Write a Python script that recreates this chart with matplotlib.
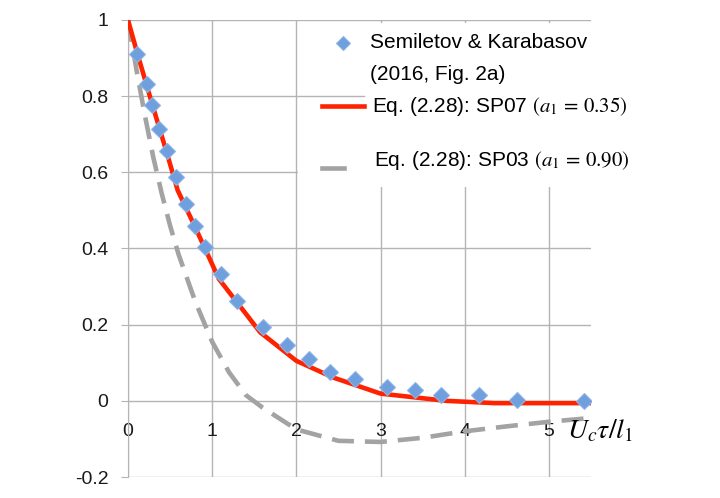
import numpy as np
import matplotlib.pyplot as plt
from matplotlib.lines import Line2D
from matplotlib.patches import Rectangle
from matplotlib.transforms import blended_transform_factory

plt.rcParams['font.family'] = ['Liberation Sans', 'DejaVu Sans']
plt.rcParams['mathtext.fontset'] = 'stix'
plt.rcParams['axes.unicode_minus'] = False

# Semiletov & Karabasov (2016, Fig. 2a)
sk_x = [0.11, 0.22, 0.29, 0.37, 0.46, 0.57, 0.69, 0.80, 0.91, 1.11, 1.29, 1.60,
        1.89, 2.15, 2.40, 2.70, 3.08, 3.41, 3.72, 4.17, 4.62, 5.42]
sk_y = [0.910, 0.833, 0.776, 0.713, 0.656, 0.588, 0.517, 0.460, 0.403, 0.332, 0.261, 0.193,
        0.146, 0.110, 0.077, 0.057, 0.037, 0.028, 0.015, 0.015, 0.002, 0.0]

# Eq. (2.28): SP07, a1 = 0.35
sp07_x = [0.0, 0.11, 0.29, 0.46, 0.59, 0.80, 1.08, 1.57, 2.00, 2.44, 3.00, 3.78, 4.35, 5.50]
sp07_y = [1.0, 0.913, 0.777, 0.652, 0.553, 0.455, 0.320, 0.180, 0.105, 0.061, 0.019, 0.0, -0.006, -0.006]

# Eq. (2.28): SP03, a1 = 0.90
sp03_x = [0.0, 0.1, 0.2, 0.3, 0.4, 0.5, 0.6, 0.8, 1.0, 1.2, 1.4, 1.6, 2.0, 2.5,
          3.0, 3.5, 4.0, 4.5, 5.0, 5.5]
sp03_y = [1.0, 0.87, 0.75, 0.64, 0.545, 0.46, 0.385, 0.26, 0.155, 0.075, 0.015, -0.018, -0.075, -0.105,
          -0.108, -0.097, -0.080, -0.067, -0.055, -0.045]

x_ticks = [0, 1, 2, 3, 4, 5]
y_ticks = [-0.2, 0, 0.2, 0.4, 0.6, 0.8, 1.0]
y_tick_labels = ['-0.2', '0', '0.2', '0.4', '0.6', '0.8', '1']

grid_col = '#b4b4b4'
red = '#ff2200'
grey = '#a3a3a3'
blue = '#6f9fdc'

fig = plt.figure(figsize=(7.2, 4.98), dpi=100)
ax = fig.add_axes([128 / 720, 21 / 498, 463 / 720, 457 / 498])

ax.plot(sp03_x, sp03_y, color=grey, lw=3.3, dashes=(4.8, 2.4), zorder=3)
ax.plot(sp07_x, sp07_y, color=red, lw=3.3, zorder=4)
ax.plot(sk_x, sk_y, ls='none', marker='D', ms=8, mfc=blue, mec='#8fb5e6', mew=0.8, zorder=5)

ax.set_xlim(0, 5.5)
ax.set_ylim(-0.2, 1.0)
ax.set_xticks(x_ticks)
ax.set_yticks(y_ticks)
ax.set_yticklabels(y_tick_labels)
ax.grid(color=grid_col, lw=1)
ax.set_axisbelow(True)

for s in ['top', 'right']:
    ax.spines[s].set_visible(False)
ax.spines['left'].set_color(grid_col)
ax.spines['bottom'].set_position(('data', 0))
ax.spines['bottom'].set_visible(False)
ax.tick_params(axis='y', length=5, color=grid_col, pad=9, labelsize=14, labelcolor='#1a1a1a')
ax.tick_params(axis='x', length=0, pad=16, labelsize=14, labelcolor='#1a1a1a')

ax.text(5.21, -0.079, r'$U_c\tau/l_1$', fontsize=20, va='center', ha='left', clip_on=False)


# legend, placed by hand like the original
def P(px, py):
    return (px / 720, 1 - py / 498)


fig.add_artist(Rectangle(P(298, 187), (650 - 298) / 720, (187 - 23) / 498,
                         transform=fig.transFigure, facecolor='white', edgecolor='none', zorder=1))
tr = blended_transform_factory(fig.transFigure, ax.transData)
fig.add_artist(Line2D([298 / 720, 364 / 720], [0.8, 0.8], transform=tr, color=grid_col, lw=1, zorder=2))

mx, my = P(343, 43)
fig.add_artist(Line2D([mx], [my], transform=fig.transFigure, ls='none', marker='D', ms=7,
                      mfc=blue, mec='#8fb5e6', mew=0.8, zorder=3))
x1, y1 = P(322, 106)
x2, _ = P(364, 106)
fig.add_artist(Line2D([x1, x2], [y1, y1], transform=fig.transFigure, color=red, lw=3.3, zorder=3))
x1, y1 = P(322, 168)
x2, _ = P(344, 168)
fig.add_artist(Line2D([x1, x2], [y1, y1], transform=fig.transFigure, color=grey, lw=3.3, zorder=3))

fs = 15
fig.text(*P(370, 43), 'Semiletov & Karabasov', fontsize=fs, va='center', zorder=3)
fig.text(*P(370, 74), '(2016, Fig. 2a)', fontsize=fs, va='center', zorder=3)
fig.text(*P(372, 106), r'Eq. (2.28): SP07 $(a_1\,=\,0.35)$', fontsize=fs, va='center', zorder=3)
fig.text(*P(374, 160), r'Eq. (2.28): SP03 $(a_1\,=\,0.90)$', fontsize=fs, va='center', zorder=3)

fig.savefig('out.png', dpi=100)
